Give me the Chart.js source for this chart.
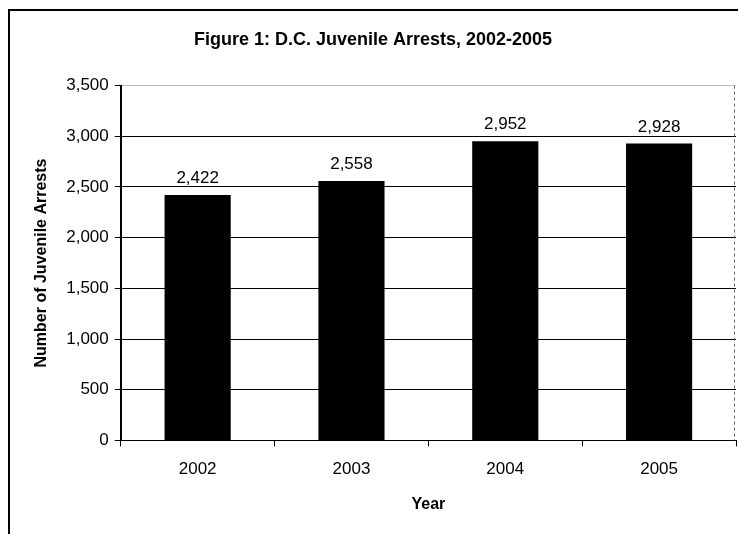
<!DOCTYPE html>
<html lang="en">
<head>
  <meta charset="UTF-8">
  <title>D.C. Juvenile Arrests</title>
  <style>
    html, body { margin: 0; padding: 0; background: #fff; }
    canvas { display: block; }
  </style>
</head>
<body>
  <canvas id="grafico" width="738" height="534"></canvas>

  <script src="https://cdn.jsdelivr.net/npm/chart.js"></script>
  <script>
    // datos
    const years = ['2002', '2003', '2004', '2005'];
    const arrests = [2422, 2558, 2952, 2928];
    const yTicks = [0, 500, 1000, 1500, 2000, 2500, 3000, 3500];

    const FONT = "'Liberation Sans', Arial, sans-serif";

    // marco exterior + borde derecho punteado del area
    const marco = {
      id: 'marco',
      beforeDraw(chart) {
        const ctx = chart.ctx;
        ctx.save();
        ctx.fillStyle = '#fff';
        ctx.fillRect(0, 0, chart.width, chart.height);
        ctx.strokeStyle = '#000';
        ctx.lineWidth = 2;
        ctx.beginPath();
        ctx.moveTo(9, chart.height + 5);
        ctx.lineTo(9, 10);
        ctx.lineTo(chart.width + 5, 10);
        ctx.stroke();
        ctx.restore();
      },
      afterDraw(chart) {
        const a = chart.chartArea;
        const ctx = chart.ctx;
        ctx.save();
        ctx.strokeStyle = '#666';
        ctx.lineWidth = 1;
        ctx.setLineDash([3, 3]);
        ctx.beginPath();
        ctx.moveTo(a.right - 1.5, a.top);
        ctx.lineTo(a.right - 1.5, a.bottom);
        ctx.stroke();
        ctx.restore();
      }
    };

    // etiquetas de valor encima de cada barra
    const etiquetas = {
      id: 'etiquetas',
      afterDatasetsDraw(chart) {
        const ctx = chart.ctx;
        const meta = chart.getDatasetMeta(0);
        ctx.save();
        ctx.font = '17px ' + FONT;
        ctx.fillStyle = '#000';
        ctx.textAlign = 'center';
        ctx.textBaseline = 'bottom';
        meta.data.forEach((bar, i) => {
          ctx.fillText(arrests[i].toLocaleString('en-US'), bar.x, bar.y - 8);
        });
        ctx.restore();
      }
    };

    new Chart(document.getElementById('grafico'), {
      type: 'bar',
      data: {
        labels: years,
        datasets: [{
          data: arrests,
          backgroundColor: '#000',
          borderWidth: 0,
          categoryPercentage: 1,
          barPercentage: 0.43
        }]
      },
      options: {
        responsive: false,
        animation: false,
        layout: { padding: { left: 10, right: 2, top: 10, bottom: 18 } },
        plugins: {
          legend: { display: false },
          tooltip: { enabled: false },
          title: {
            display: true,
            text: 'Figure 1: D.C. Juvenile Arrests, 2002-2005',
            color: '#000',
            font: { family: FONT, size: 18, weight: 'bold' },
            padding: { top: 19, bottom: 35 }
          }
        },
        scales: {
          x: {
            grid: {
              offset: true,
              drawOnChartArea: false,
              tickLength: 6,
              tickColor: '#000'
            },
            border: { color: '#000', width: 1 },
            ticks: {
              color: '#000',
              padding: 13,
              font: { family: FONT, size: 17 }
            },
            title: {
              display: true,
              text: 'Year',
              color: '#000',
              font: { family: FONT, size: 16, weight: 'bold' },
              padding: { top: 2, bottom: 2 }
            }
          },
          y: {
            min: 0,
            max: 3500,
            afterBuildTicks(axis) {
              axis.ticks = yTicks.map(v => ({ value: v }));
            },
            grid: {
              color: ctx => ctx.tick && ctx.tick.value === 3500 ? '#bbb' : '#000',
              lineWidth: 1,
              tickLength: 6,
              tickColor: '#000'
            },
            border: { color: '#000', width: 2 },
            ticks: {
              color: '#000',
              padding: 6,
              font: { family: FONT, size: 17 },
              callback: v => v.toLocaleString('en-US')
            },
            title: {
              display: true,
              text: 'Number of Juvenile Arrests',
              color: '#000',
              font: { family: FONT, size: 16, weight: 'bold' },
              padding: { top: 22, bottom: 9 }
            }
          }
        }
      },
      plugins: [marco, etiquetas]
    });
  </script>
</body>
</html>
